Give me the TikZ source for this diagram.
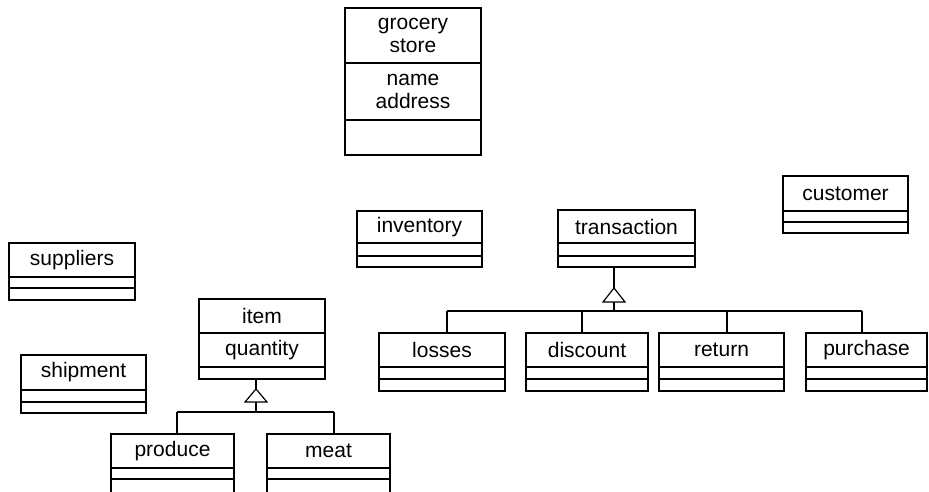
\documentclass[tikz,border=0pt]{standalone}
\usepackage{fontspec}
\setmainfont{Liberation Sans}
\usepackage{tikz}
\usetikzlibrary{positioning}

\tikzset{
  umlline/.style={line width=1.2pt, draw=black},
  clshead/.style={
    umlline,
    anchor=north west,
    inner sep=0pt,
    outer sep=0pt,
    align=center,
    font=\fontsize{21}{23.5}\selectfont
  },
  clspart/.style={
    umlline,
    inner sep=0pt,
    outer sep=0pt,
    align=center,
    font=\fontsize{21}{23.5}\selectfont
  },
  gentri/.style={umlline, fill=white, line join=miter},
  link/.style={umlline}
}

% name, position, width, head height, head text, attr height, attr text, ops height
\newcommand{\umlclass}[8]{%
  \node[clshead, minimum width=#3, minimum height=#4] (#1) at (#2) {#5};
  \node[clspart, minimum width=#3, minimum height=#6, below=0pt of #1] (#1-attr) {#7};
  \node[clspart, minimum width=#3, minimum height=#8, below=0pt of #1-attr] (#1-ops) {};
}

\begin{document}
\begin{tikzpicture}[x=1pt, y=-1pt]
\path[use as bounding box, clip] (0,0) rectangle (929,491);

% classes
\umlclass{store}{345,8}{136pt}{55pt}{grocery\\store}{57pt}{name\\address}{35pt}
\umlclass{customer}{783,176}{125pt}{35pt}{customer}{11pt}{}{11pt}
\umlclass{inventory}{357,211}{125pt}{32pt}{inventory}{13pt}{}{11pt}
\umlclass{transaction}{558,210}{137pt}{33pt}{transaction}{13pt}{}{11pt}
\umlclass{suppliers}{9,243}{126pt}{34pt}{suppliers}{11pt}{}{12pt}
\umlclass{shipment}{21,355}{125pt}{35pt}{shipment}{12pt}{}{11pt}
\umlclass{item}{199,299}{126pt}{34pt}{item}{34pt}{quantity}{12pt}
\umlclass{losses}{379,333}{126pt}{34pt}{losses}{12pt}{}{12pt}
\umlclass{discount}{526,333}{122pt}{34pt}{discount}{12pt}{}{12pt}
\umlclass{return}{659,333}{125pt}{34pt}{return}{12pt}{}{12pt}
\umlclass{purchase}{806,333}{121pt}{34pt}{purchase}{12pt}{}{12pt}
\umlclass{produce}{111,434}{123pt}{34pt}{produce}{11pt}{}{30pt}
\umlclass{meat}{267,434}{123pt}{34pt}{meat}{11pt}{}{30pt}

% transaction generalization
\coordinate (tgen) at (614,288);
\coordinate (tbase) at (614,302);
\coordinate (tbus) at (614,311);
\coordinate (lossdrop) at (447,311);
\coordinate (discdrop) at (582,311);
\coordinate (retdrop) at (727,311);
\coordinate (purdrop) at (862,311);
\draw[link] (transaction-ops.south -| tgen) -- (tgen);
\draw[link] (tbase) -- (tbus);
\draw[link] (lossdrop) -- (purdrop);
\foreach \d/\c in {lossdrop/losses, discdrop/discount, retdrop/return, purdrop/purchase}
  \draw[link] (\d) -- (\d |- \c.north);
\draw[gentri] (tgen) -- ++(-11,14) -- ++(22,0) -- cycle;

% item generalization
\coordinate (igen) at (256,389);
\coordinate (ibase) at (256,402);
\coordinate (ibus) at (256,412);
\coordinate (prodrop) at (177,412);
\coordinate (meatdrop) at (334,412);
\draw[link] (item-ops.south -| igen) -- (igen);
\draw[link] (ibase) -- (ibus);
\draw[link] (prodrop) -- (meatdrop);
\foreach \d/\c in {prodrop/produce, meatdrop/meat}
  \draw[link] (\d) -- (\d |- \c.north);
\draw[gentri] (igen) -- ++(-11,13) -- ++(22,0) -- cycle;

\end{tikzpicture}
\end{document}
